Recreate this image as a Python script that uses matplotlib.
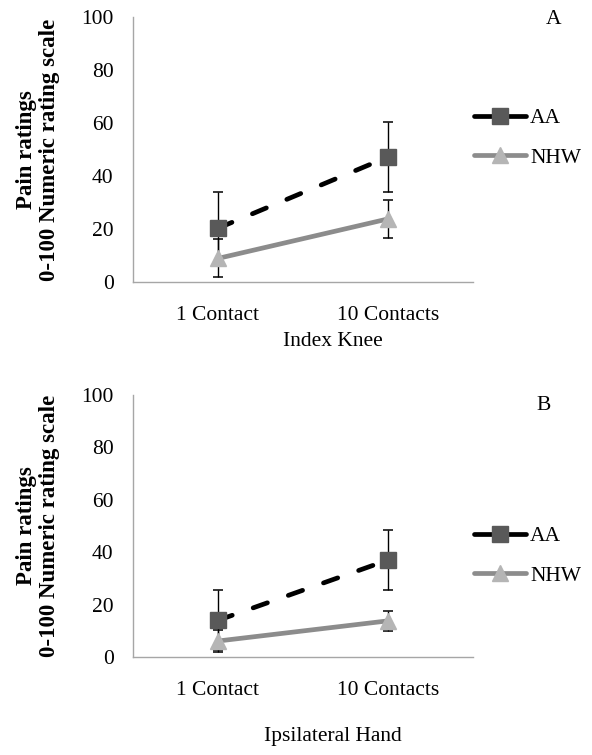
import numpy as np
import matplotlib
matplotlib.use("Agg")
import matplotlib.pyplot as plt
from matplotlib.lines import Line2D

# data
categories = ["1 Contact", "10 Contacts"]
groups = ["AA", "NHW"]

knee_aa = [20.3, 47.2]
knee_aa_err = [13.5, 13.2]
knee_nhw = [8.9, 23.8]
knee_nhw_err = [7.2, 7.2]

hand_aa = [14.0, 37.0]
hand_aa_err = [11.5, 11.5]
hand_nhw = [6.1, 13.8]
hand_nhw_err = [4.3, 3.8]

panel_letters = ["A", "B"]
panel_titles = ["Index Knee", "Ipsilateral Hand"]
y_title = "Pain ratings\n0-100 Numeric rating scale"

plt.rcParams['font.family'] = ['Liberation Serif', 'DejaVu Serif']

W, H = 592, 755
fig = plt.figure(figsize=(W / 100, H / 100), dpi=100)


def px(x, y):
    return x / W, 1 - y / H


AA_COLOR = "black"
AA_MARK = "#595959"
NHW_COLOR = "#8c8c8c"
NHW_MARK = "#b5b5b5"


def panel(top, bottom, aa, aa_err, nhw, nhw_err, letter, letter_xy, title, title_y, legend_y):
    left, right = 133, 473
    ax = fig.add_axes([left / W, 1 - bottom / H, (right - left) / W, (bottom - top) / H])
    x = np.arange(len(categories))

    # error bars first, markers go on top of them
    ax.errorbar(x, aa, yerr=aa_err, fmt='none', ecolor='black', elinewidth=1.0,
                capsize=3.3, capthick=1.1, zorder=2)
    ax.errorbar(x, nhw, yerr=nhw_err, fmt='none', ecolor='black', elinewidth=1.0,
                capsize=3.3, capthick=1.1, zorder=2)
    ax.plot(x, aa, color=AA_COLOR, lw=3.4, dashes=(3.2, 4.7),
            dash_capstyle='round', zorder=3)
    ax.plot(x, aa, ls='none', marker='s', ms=11.5, mfc=AA_MARK, mec=AA_MARK, zorder=4)
    ax.plot(x, nhw, color=NHW_COLOR, lw=3.4, solid_capstyle='butt', zorder=3)
    ax.plot(x, nhw, ls='none', marker='^', ms=12, mfc=NHW_MARK, mec=NHW_MARK, zorder=5)

    ax.set_xlim(-0.5, 1.5)
    ax.set_ylim(0, 100)
    ax.set_yticks([0, 20, 40, 60, 80, 100])
    ax.set_xticks(x)
    ax.set_xticklabels(categories)
    ax.tick_params(axis='both', length=0, labelsize=15.5)
    ax.tick_params(axis='y', pad=14)
    ax.tick_params(axis='x', pad=17)
    for s in ['top', 'right']:
        ax.spines[s].set_visible(False)
    for s in ['left', 'bottom']:
        ax.spines[s].set_color("#a6a6a6")
        ax.spines[s].set_linewidth(1.0)
    ax.patch.set_alpha(0)

    handles = [
        Line2D([], [], color=AA_COLOR, lw=3.4, marker='s', ms=11.5, mfc=AA_MARK, mec=AA_MARK,
               solid_capstyle='round'),
        Line2D([], [], color=NHW_COLOR, lw=3.4, marker='^', ms=12, mfc=NHW_MARK, mec=NHW_MARK,
               solid_capstyle='round'),
    ]
    ax.legend(handles, groups, loc='center left', bbox_to_anchor=px(474, legend_y),
              bbox_transform=fig.transFigure, frameon=False, fontsize=15.5,
              handlelength=2.4, handletextpad=0.2, labelspacing=0.9,
              borderpad=0, borderaxespad=0, numpoints=1)

    fig.text(*px(*letter_xy), letter, ha='center', va='center', fontsize=15.5)
    fig.text(*px(333, title_y), title, ha='center', va='center', fontsize=15.5)
    fig.text(*px(38, (top + bottom) / 2), y_title, ha='center', va='center',
             rotation=90, fontsize=16.5, fontweight='bold', multialignment='center',
             linespacing=1.15)
    return ax


panel(17, 282, knee_aa, knee_aa_err, knee_nhw, knee_nhw_err,
      panel_letters[0], (554, 19), panel_titles[0], 341, 138)
panel(395, 657, hand_aa, hand_aa_err, hand_nhw, hand_nhw_err,
      panel_letters[1], (544, 405), panel_titles[1], 737, 556)

fig.savefig("out.png", dpi=100)
